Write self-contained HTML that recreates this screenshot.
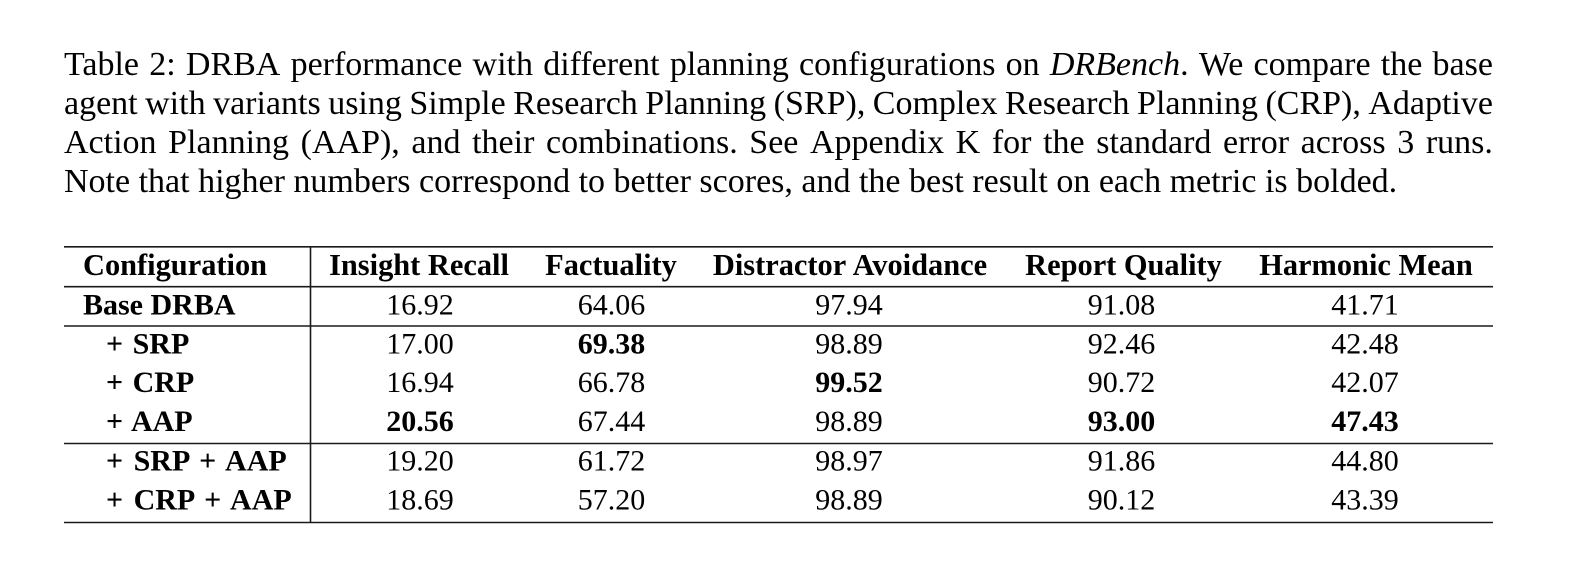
<!DOCTYPE html>
<html>
<head>
<meta charset="utf-8">
<style>
  html, body { margin:0; padding:0; }
  body { width:1574px; height:570px; background:#fff; position:relative; overflow:hidden; color:#000; }
  .cap { position:absolute; left:64px; width:1429px; height:39px; line-height:39px;
         font-family:"Liberation Serif", "Times New Roman", serif; font-size:34px;
         white-space:nowrap; }
  .j { display:flex; justify-content:space-between; }
  .j span { display:block; }
  svg { position:absolute; left:0; top:0; }
  svg text { font-family:"Liberation Serif", "Times New Roman", serif; font-size:30px; fill:#000; }
</style>
</head>
<body>
<div class="cap j" style="top:45px"><span>Table</span><span>2:</span><span>DRBA</span><span>performance</span><span>with</span><span>different</span><span>planning</span><span>configurations</span><span>on</span><span><i>DRBench</i>.</span><span>We</span><span>compare</span><span>the</span><span>base</span></div>
<div class="cap j" style="top:84px"><span>agent</span><span>with</span><span>variants</span><span>using</span><span>Simple</span><span>Research</span><span>Planning</span><span>(SRP),</span><span>Complex</span><span>Research</span><span>Planning</span><span>(CRP),</span><span>Adaptive</span></div>
<div class="cap j" style="top:123px"><span>Action</span><span>Planning</span><span>(AAP),</span><span>and</span><span>their</span><span>combinations.</span><span>See</span><span>Appendix</span><span>K</span><span>for</span><span>the</span><span>standard</span><span>error</span><span>across</span><span>3</span><span>runs.</span></div>
<div class="cap" style="top:162px">Note that higher numbers correspond to better scores, and the best result on each metric is bolded.</div>

<svg width="1574" height="570" viewBox="0 0 1574 570">
  <g stroke="#1a1a1a" stroke-width="1.6">
    <line x1="64" y1="246.8" x2="1493" y2="246.8"/>
    <line x1="64" y1="286.7" x2="1493" y2="286.7"/>
    <line x1="64" y1="326" x2="1493" y2="326"/>
    <line x1="64" y1="443.5" x2="1493" y2="443.5"/>
    <line x1="64" y1="522.5" x2="1493" y2="522.5"/>
    <line x1="310.5" y1="246.8" x2="310.5" y2="522.5"/>
  </g>
  <!-- header -->
  <g font-weight="bold">
    <text x="83" y="275" style="font-size:30.4px">Configuration</text>
    <text x="419" y="275" text-anchor="middle" style="font-size:30.4px">Insight Recall</text>
    <text x="611" y="275" text-anchor="middle" style="font-size:30.4px">Factuality</text>
    <text x="850" y="275" text-anchor="middle" style="font-size:30.4px;word-spacing:1px">Distractor Avoidance</text>
    <text x="1123.5" y="275" text-anchor="middle" style="font-size:30.4px">Report Quality</text>
    <text x="1366" y="275" text-anchor="middle" style="font-size:30.4px">Harmonic Mean</text>
  </g>
  <!-- row labels -->
  <g font-weight="bold">
    <text x="83" y="314.5">Base DRBA</text>
    <text x="106" y="353.5" style="word-spacing:2px">+ SRP</text>
    <text x="106" y="392" style="word-spacing:2px">+ CRP</text>
    <text x="106" y="431" style="word-spacing:2px">+ AAP</text>
    <text x="106" y="470.5" style="word-spacing:3px">+ SRP + AAP</text>
    <text x="106" y="509.5" style="word-spacing:3px">+ CRP + AAP</text>
  </g>
  <!-- data -->
  <g text-anchor="middle">
    <text x="420" y="314.5">16.92</text>
    <text x="611.5" y="314.5">64.06</text>
    <text x="849" y="314.5">97.94</text>
    <text x="1121.5" y="314.5">91.08</text>
    <text x="1365" y="314.5">41.71</text>

    <text x="420" y="353.5">17.00</text>
    <text x="611.5" y="353.5" font-weight="bold">69.38</text>
    <text x="849" y="353.5">98.89</text>
    <text x="1121.5" y="353.5">92.46</text>
    <text x="1365" y="353.5">42.48</text>

    <text x="420" y="392">16.94</text>
    <text x="611.5" y="392">66.78</text>
    <text x="849" y="392" font-weight="bold">99.52</text>
    <text x="1121.5" y="392">90.72</text>
    <text x="1365" y="392">42.07</text>

    <text x="420" y="431" font-weight="bold">20.56</text>
    <text x="611.5" y="431">67.44</text>
    <text x="849" y="431">98.89</text>
    <text x="1121.5" y="431" font-weight="bold">93.00</text>
    <text x="1365" y="431" font-weight="bold">47.43</text>

    <text x="420" y="470.5">19.20</text>
    <text x="611.5" y="470.5">61.72</text>
    <text x="849" y="470.5">98.97</text>
    <text x="1121.5" y="470.5">91.86</text>
    <text x="1365" y="470.5">44.80</text>

    <text x="420" y="509.5">18.69</text>
    <text x="611.5" y="509.5">57.20</text>
    <text x="849" y="509.5">98.89</text>
    <text x="1121.5" y="509.5">90.12</text>
    <text x="1365" y="509.5">43.39</text>
  </g>
</svg>
</body>
</html>
